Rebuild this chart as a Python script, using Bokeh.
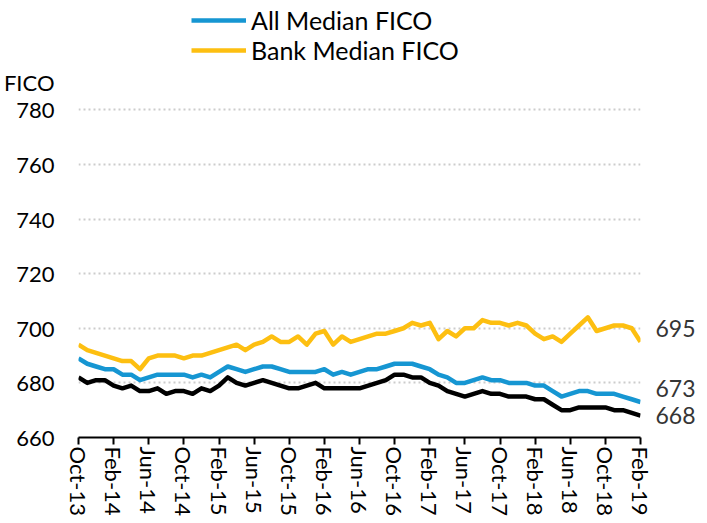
from bokeh.plotting import figure
from bokeh.models import Legend, LegendItem, FixedTicker, Range1d, LinearAxis
from bokeh.embed import file_html
from bokeh.resources import INLINE

tick_labels = ["Oct-13", "Feb-14", "Jun-14", "Oct-14", "Feb-15", "Jun-15", "Oct-15",
               "Feb-16", "Jun-16", "Oct-16", "Feb-17", "Jun-17", "Oct-17", "Feb-18",
               "Jun-18", "Oct-18", "Feb-19"]

all_median = [689, 687, 686, 685, 685, 683, 683, 681, 682, 683, 683, 683, 683, 682, 683, 682,
              684, 686, 685, 684, 685, 686, 686, 685, 684, 684, 684, 684, 685, 683, 684, 683,
              684, 685, 685, 686, 687, 687, 687, 686, 685, 683, 682, 680, 680, 681, 682, 681,
              681, 680, 680, 680, 679, 679, 677, 675, 676, 677, 677, 676, 676, 676, 675, 674, 673]

bank_median = [694, 692, 691, 690, 689, 688, 688, 685, 689, 690, 690, 690, 689, 690, 690, 691,
               692, 693, 694, 692, 694, 695, 697, 695, 695, 697, 694, 698, 699, 694, 697, 695,
               696, 697, 698, 698, 699, 700, 702, 701, 702, 696, 699, 697, 700, 700, 703, 702,
               702, 701, 702, 701, 698, 696, 697, 695, 698, 701, 704, 699, 700, 701, 701, 700, 695]

other_median = [682, 680, 681, 681, 679, 678, 679, 677, 677, 678, 676, 677, 677, 676, 678, 677,
                679, 682, 680, 679, 680, 681, 680, 679, 678, 678, 679, 680, 678, 678, 678, 678,
                678, 679, 680, 681, 683, 683, 682, 682, 680, 679, 677, 676, 675, 676, 677, 676,
                676, 675, 675, 675, 674, 674, 672, 670, 670, 671, 671, 671, 671, 670, 670, 669, 668]

y_ticks = [660, 680, 700, 720, 740, 760, 780]
unit_label = "FICO"

BLUE = "#1696d2"
YELLOW = "#fdbf11"
BLACK = "#000000"
FONT = "Lato"

n = len(all_median)
xs = list(range(n))
tick_pos = [4 * k for k in range(len(tick_labels))]
unit_pos = y_ticks[-1] + 10   # unit label sits just above the top tick
y_top = y_ticks[-1] + 40      # headroom inside the frame for the legend

p = figure(width=700, height=523, output_backend="svg", toolbar_location=None,
           x_range=Range1d(0, n - 1), y_range=Range1d(y_ticks[0], y_top),
           min_border_left=77, min_border_right=60, min_border_top=0, min_border_bottom=86)
p.outline_line_color = None
p.background_fill_color = "white"

# left axis (numeric ticks plus the unit label)
p.yaxis.ticker = FixedTicker(ticks=y_ticks + [unit_pos])
p.yaxis.major_label_overrides = {unit_pos: unit_label}
p.yaxis.axis_line_color = None
p.yaxis.major_tick_line_color = None
p.yaxis.minor_tick_line_color = None
p.yaxis.major_label_standoff = 18
p.yaxis.major_label_text_font = FONT
p.yaxis.major_label_text_font_size = "22px"
p.yaxis.major_label_text_color = "#000000"

# bottom axis
p.xaxis.ticker = FixedTicker(ticks=tick_pos)
p.xaxis.major_label_overrides = {pos: lab for pos, lab in zip(tick_pos, tick_labels)}
p.xaxis.major_label_orientation = "vertical"
p.xaxis.axis_line_color = "#000000"
p.xaxis.axis_line_width = 2
p.xaxis.major_tick_line_color = "#000000"
p.xaxis.major_tick_line_width = 2
p.xaxis.major_tick_out = 7
p.xaxis.major_tick_in = 0
p.xaxis.minor_tick_line_color = None
p.xaxis.major_label_standoff = 2
p.xaxis.major_label_text_font = FONT
p.xaxis.major_label_text_font_size = "22px"
p.xaxis.major_label_text_color = "#000000"

p.xgrid.grid_line_color = None
p.ygrid.ticker = FixedTicker(ticks=y_ticks)
p.ygrid.grid_line_color = "#cccccc"
p.ygrid.grid_line_width = 2
p.ygrid.grid_line_dash = "2 3"

r_other = p.line(xs, other_median, line_color=BLACK, line_width=4.5, line_join="round")
r_all = p.line(xs, all_median, line_color=BLUE, line_width=4.5, line_join="round")
r_bank = p.line(xs, bank_median, line_color=YELLOW, line_width=4.5, line_join="round")

# end-of-line value labels, drawn as a right axis (nudged apart so they do not overlap)
end_series = [bank_median, all_median, other_median]
end_nudge = [5, 5, 0]
end_ticks = [s[-1] + d for s, d in zip(end_series, end_nudge)]
right = LinearAxis(ticker=FixedTicker(ticks=end_ticks),
                   major_label_overrides={t: str(s[-1]) for t, s in zip(end_ticks, end_series)})
right.axis_line_color = None
right.major_tick_line_color = None
right.minor_tick_line_color = None
right.major_label_standoff = 9
right.major_label_text_font = FONT
right.major_label_text_font_size = "23px"
right.major_label_text_color = "#353535"
p.add_layout(right, "right")

legend = Legend(items=[LegendItem(label="All Median FICO", renderers=[r_all]),
                       LegendItem(label="Bank Median FICO", renderers=[r_bank])],
                location=(113, 372), orientation="vertical")
legend.border_line_color = None
legend.background_fill_alpha = 0
legend.label_text_font = FONT
legend.label_text_font_size = "25px"
legend.label_text_color = "#000000"
legend.glyph_width = 55
legend.glyph_height = 30
legend.label_height = 30
legend.spacing = 0
legend.padding = 0
legend.margin = 0
legend.label_standoff = 5
p.add_layout(legend)

open("out.html", "w").write(file_html(p, INLINE))
